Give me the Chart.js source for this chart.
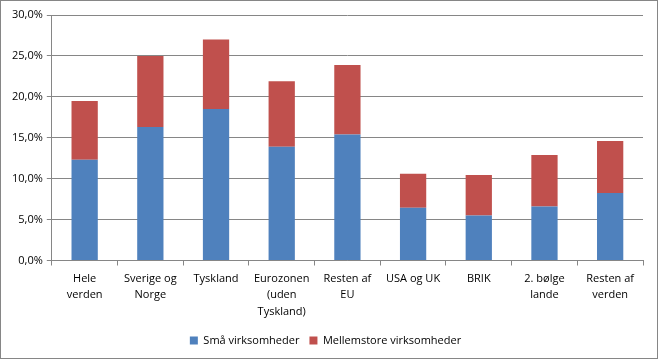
<!DOCTYPE html>
<html>
<head>
<meta charset="utf-8">
<script src="https://cdn.jsdelivr.net/npm/chart.js@4"></script>
<style>
  body { margin: 0; background: #fff; }
  #wrap { width: 658px; height: 359px; box-sizing: border-box; border: 1px solid #868686; }
</style>
</head>
<body>
<div id="wrap"><canvas id="myChart" width="656" height="357"></canvas></div>
<script>
const labels = [
    ['Hele', 'verden'],
    ['Sverige og', 'Norge'],
    ['Tyskland'],
    ['Eurozonen', '(uden', 'Tyskland)'],
    ['Resten af', 'EU'],
    ['USA og UK'],
    ['BRIK'],
    ['2. bølge', 'lande'],
    ['Resten af', 'verden']
];

// percentages, stacked
const smaa = [12.3, 16.3, 18.5, 13.9, 15.4, 6.45, 5.5, 6.6, 8.25];
const mellemstore = [7.2, 8.7, 8.5, 8.0, 8.5, 4.15, 4.95, 6.3, 6.35];

const yTicks = [0, 5, 10, 15, 20, 25, 30];

const gridColor = '#868686';
Chart.defaults.font.family = 'Open Sans';
Chart.defaults.font.size = 11;
Chart.defaults.color = '#000';

const ctx = document.getElementById('myChart');

new Chart(ctx, {
    type: 'bar',
    data: {
        labels: labels,
        datasets: [{
            label: 'Små virksomheder',
            data: smaa,
            backgroundColor: '#4F81BD'
        }, {
            label: 'Mellemstore virksomheder',
            data: mellemstore,
            backgroundColor: '#C0504D'
        }]
    },
    options: {
        responsive: false,
        animation: false,
        barPercentage: 0.4,
        categoryPercentage: 1,
        layout: {
            padding: { top: 14, right: 14, left: 7, bottom: 2 }
        },
        plugins: {
            tooltip: { enabled: false },
            legend: {
                position: 'bottom',
                labels: { boxWidth: 8, boxHeight: 8, padding: 10 }
            }
        },
        scales: {
            x: {
                stacked: true,
                grid: {
                    offset: true,
                    drawOnChartArea: false,
                    color: gridColor,
                    tickLength: 5
                },
                border: { color: gridColor },
                ticks: { maxRotation: 0, padding: 5, font: { lineHeight: 1.5 } }
            },
            y: {
                stacked: true,
                min: 0,
                max: 30,
                afterBuildTicks: (axis) => {
                    axis.ticks = yTicks.map(v => ({ value: v }));
                },
                grid: { color: gridColor, tickLength: 5 },
                border: { color: gridColor },
                ticks: {
                    padding: 4,
                    callback: v => v.toFixed(1).replace('.', ',') + '%'
                }
            }
        }
    }
});
</script>
</body>
</html>
